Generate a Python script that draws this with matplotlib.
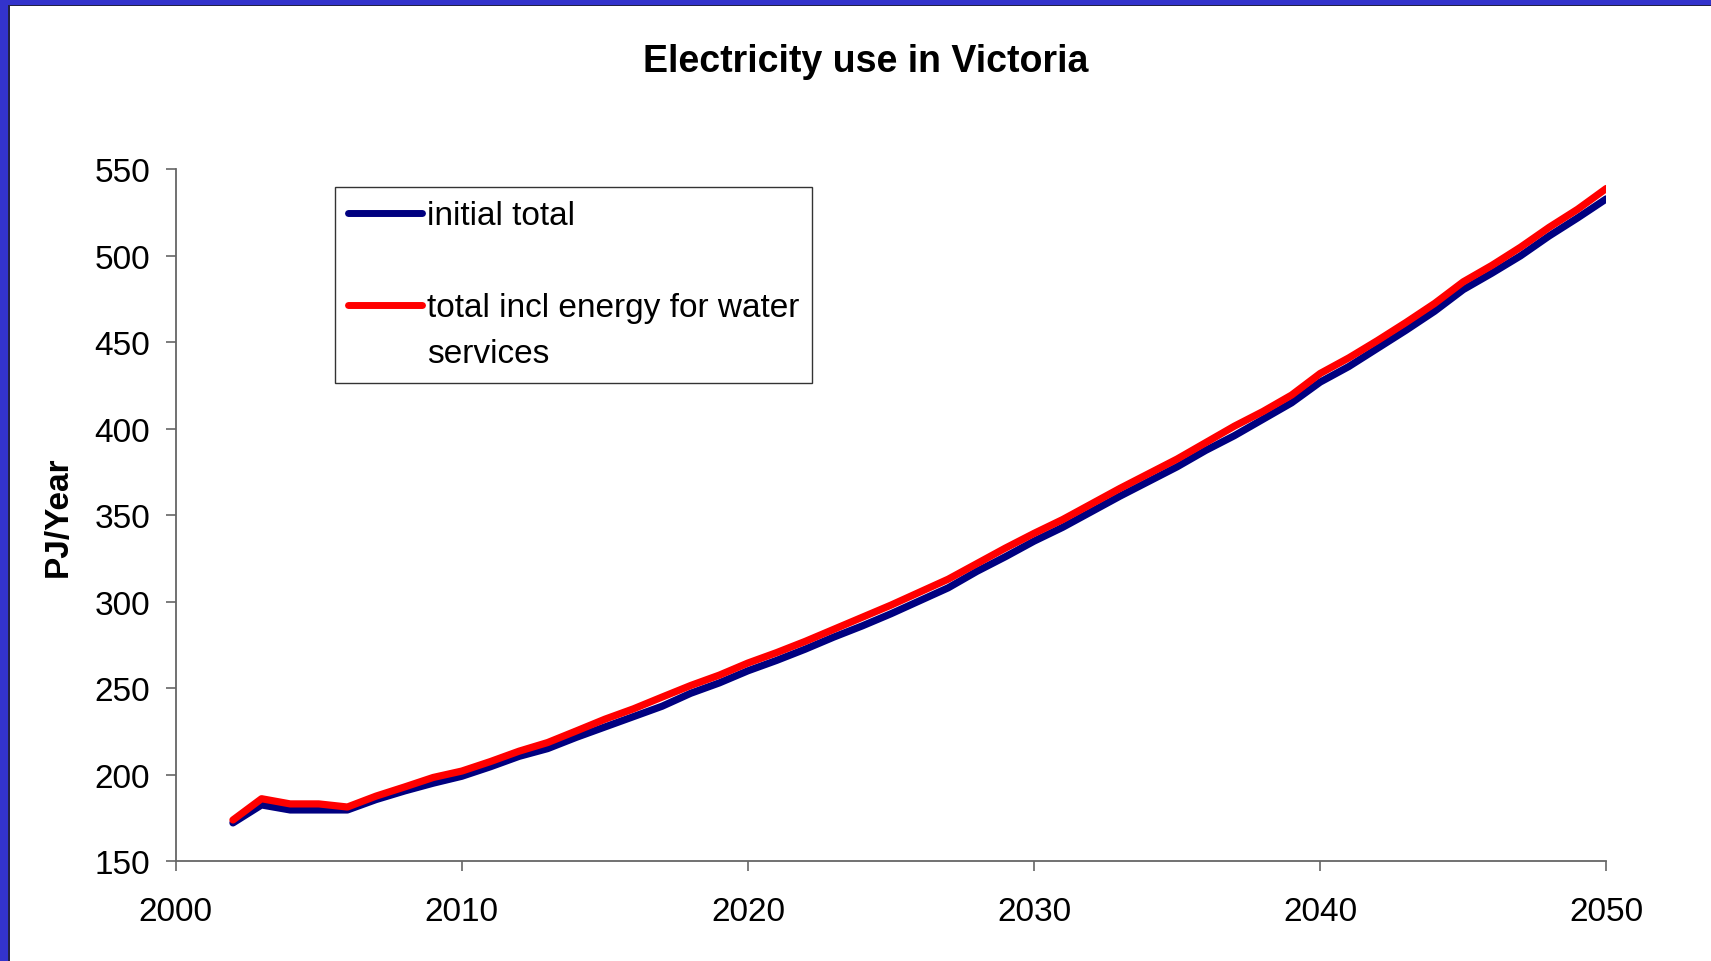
import matplotlib
matplotlib.use("Agg")
import matplotlib.pyplot as plt
from matplotlib.lines import Line2D
from matplotlib.patches import Rectangle

# yearly values (PJ/year)
years = list(range(2002, 2051))
initial_total = [172.0, 182.4, 179.5, 179.5, 179.5, 185.5, 190.5, 195.0, 199.0, 204.5,
                 210.5, 215.0, 221.5, 227.5, 233.5, 239.5, 247.0, 253.0, 260.0, 266.0,
                 272.5, 279.5, 286.0, 293.0, 300.5, 308.0, 317.5, 326.0, 335.0, 343.0,
                 352.0, 361.0, 369.5, 378.0, 387.5, 396.0, 405.5, 415.0, 427.0, 436.0,
                 446.5, 457.0, 468.0, 480.5, 490.0, 500.0, 511.5, 522.0, 533.0]
total_with_water = [173.7, 186.0, 183.0, 183.0, 181.2, 187.5, 192.8, 198.3, 202.0, 207.5,
                    213.5, 218.5, 225.2, 232.0, 238.0, 244.8, 251.5, 257.5, 264.5, 270.5,
                    277.0, 284.0, 291.0, 298.0, 305.5, 313.0, 322.0, 331.0, 339.5, 347.5,
                    356.5, 365.5, 374.0, 382.5, 392.0, 401.5, 410.0, 419.5, 432.0, 441.0,
                    451.0, 461.5, 472.5, 485.0, 494.5, 505.0, 516.5, 527.0, 539.0]

x_ticks = [2000, 2010, 2020, 2030, 2040, 2050]
y_ticks = [150, 200, 250, 300, 350, 400, 450, 500, 550]

plt.rcParams['font.family'] = ['Liberation Sans', 'DejaVu Sans']

fig = plt.figure(figsize=(17.11, 9.62), dpi=100)
ax = fig.add_axes([0.1027, 0.1040, 0.8361, 0.7188])

ax.plot(years, initial_total, color='#000080', lw=5.2,
        solid_capstyle='round', solid_joinstyle='round')
ax.plot(years, total_with_water, color='#FF0000', lw=5.2,
        solid_capstyle='round', solid_joinstyle='round')

ax.set_xlim(2000, 2050)
ax.set_ylim(150, 550)
ax.set_xticks(x_ticks)
ax.set_yticks(y_ticks)

for side in ['top', 'right']:
    ax.spines[side].set_visible(False)
for side in ['left', 'bottom']:
    ax.spines[side].set_color('#666666')
    ax.spines[side].set_linewidth(1.3)

ax.tick_params(axis='both', direction='out', length=7.5, width=1.2, color='#666666', labelsize=24)
ax.tick_params(axis='y', pad=11)
ax.tick_params(axis='x', pad=17.5)

ax.set_ylabel('PJ/Year', fontsize=24, fontweight='bold')
ax.yaxis.set_label_coords(-0.0715, 0.50)

fig.text(0.506, 0.9355, 'Electricity use in Victoria', fontsize=27, fontweight='bold',
         ha='center', va='center')

# legend: blank and text-only rows keep the spacing of the original
handles = [Line2D([], [], color='#000080', lw=5, solid_capstyle='round'),
           Line2D([], [], color='none'),
           Line2D([], [], color='#FF0000', lw=5, solid_capstyle='round'),
           Line2D([], [], color='none')]
labels = ['initial total', ' ', 'total incl energy for water', 'services']
leg = ax.legend(handles, labels, loc='upper left', bbox_to_anchor=(0.1113, 0.9747),
                borderaxespad=0, fontsize=24, frameon=True, fancybox=False,
                edgecolor='black', handlelength=2.2, handletextpad=0.15,
                borderpad=0.4, labelspacing=0.45)
leg.get_frame().set_linewidth(1.0)

# blue slide border at top and left
fig.add_artist(Rectangle((0, 956), 1711, 6, transform=None, facecolor='#3333CC', edgecolor='none'))
fig.add_artist(Rectangle((0, 955), 1711, 1.5, transform=None, facecolor='#222244', edgecolor='none'))
fig.add_artist(Rectangle((0, 0), 8, 962, transform=None, facecolor='#3333CC', edgecolor='none'))
fig.add_artist(Rectangle((8, 0), 1.5, 956, transform=None, facecolor='#222244', edgecolor='none'))

fig.savefig('out.png', dpi=100)
